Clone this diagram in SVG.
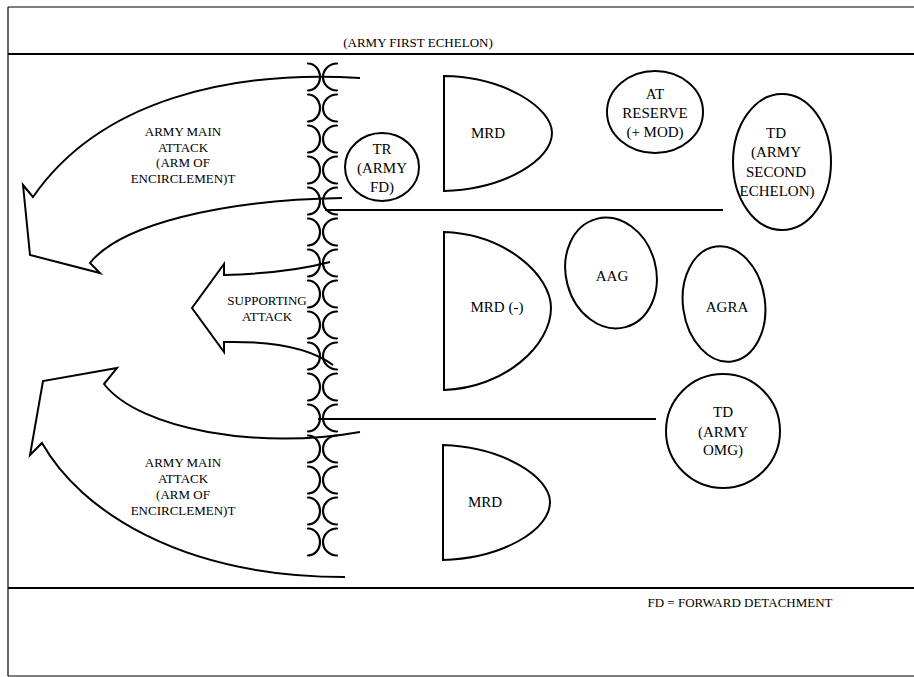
<svg xmlns="http://www.w3.org/2000/svg" width="914" height="677" viewBox="0 0 914 677" font-family="'Liberation Serif', 'DejaVu Serif', serif">
  <style>
    .ln { fill: none; stroke: #000; stroke-width: 2; }
    .thin { fill: none; stroke: #000; stroke-width: 1.2; }
    .shape { fill: #fff; stroke: #000; stroke-width: 2; }
    .fl { fill: none; stroke: #000; stroke-width: 2.2; stroke-linecap: round; }
    text { font-family: 'Liberation Serif', 'DejaVu Serif', serif; fill: #000; text-anchor: middle; }
    .sm { font-size: 13px; }
    .lg { font-size: 15px; }
  </style>
  <defs>
    <!-- one pair of opposing brackets marking the front line -->
    <g id="front-pair">
      <path class="fl" d="M308,-13.5 A12,13.5 0 0 1 308,13.5"/>
      <path class="fl" d="M337,-13.5 A14,13.5 0 0 0 337,13.5"/>
    </g>
  </defs>

  <rect width="914" height="677" fill="#fff"/>

  <!-- frame and bands -->
  <g id="frame">
    <line class="thin" x1="8" y1="7" x2="914" y2="7"/>
    <line class="thin" x1="8" y1="7" x2="8" y2="676"/>
    <line class="thin" x1="8" y1="676" x2="914" y2="676"/>
    <line class="ln" x1="8" y1="54" x2="914" y2="54"/>
    <line class="ln" x1="8" y1="588" x2="914" y2="588"/>
    <text class="sm" x="418" y="47">(ARMY FIRST ECHELON)</text>
    <text class="sm" x="740" y="607">FD = FORWARD DETACHMENT</text>
  </g>

  <!-- front line -->
  <g id="front-line">
    <use href="#front-pair" y="77"/>
    <use href="#front-pair" y="108"/>
    <use href="#front-pair" y="139"/>
    <use href="#front-pair" y="170"/>
    <use href="#front-pair" y="201"/>
    <use href="#front-pair" y="232"/>
    <use href="#front-pair" y="263"/>
    <use href="#front-pair" y="294"/>
    <use href="#front-pair" y="325"/>
    <use href="#front-pair" y="356"/>
    <use href="#front-pair" y="387"/>
    <use href="#front-pair" y="418"/>
    <use href="#front-pair" y="449"/>
    <use href="#front-pair" y="480"/>
    <use href="#front-pair" y="511"/>
    <use href="#front-pair" y="542"/>
  </g>

  <!-- attack arrows and boundary lines -->
  <g id="connectors">
    <path class="ln" d="M360,78 C230,70 100,100 33,197 L23,185 L30,255 L100,273 L90,263 C120,225 220,200 342,198"/>
    <path class="ln" d="M330,262 C300,270 260,274 224,275 L224,264 L192,308 L224,352 L224,342 C270,341 310,348 333,365"/>
    <path class="ln" d="M360,432 C260,450 140,430 104,384 L117,368 L43,381 L30,455 L42,443 C80,510 180,577 345,577"/>
    <line class="ln" x1="325" y1="210" x2="723" y2="210"/>
    <line class="ln" x1="318" y1="419" x2="656" y2="419"/>
  </g>

  <g id="label-main-attack-north">
    <text class="sm" x="183" y="136">ARMY MAIN</text>
    <text class="sm" x="183" y="152">ATTACK</text>
    <text class="sm" x="183" y="167">(ARM OF</text>
    <text class="sm" x="183" y="183">ENCIRCLEMEN)T</text>
  </g>
  <g id="label-supporting-attack">
    <text class="sm" x="267" y="305">SUPPORTING</text>
    <text class="sm" x="267" y="321">ATTACK</text>
  </g>
  <g id="label-main-attack-south">
    <text class="sm" x="183" y="467">ARMY MAIN</text>
    <text class="sm" x="183" y="483">ATTACK</text>
    <text class="sm" x="183" y="499">(ARM OF</text>
    <text class="sm" x="183" y="515">ENCIRCLEMEN)T</text>
  </g>

  <g id="tr-army-fd">
    <ellipse class="shape" cx="382" cy="167" rx="37" ry="34"/>
    <text class="lg" x="382" y="154">TR</text>
    <text class="lg" x="382" y="173">(ARMY</text>
    <text class="lg" x="382" y="192">FD)</text>
  </g>

  <g id="mrd-north">
    <path class="shape" d="M444,76 C505,77 552,108 552,133 C552,160 505,189 444,191 Z"/>
    <text class="lg" x="488" y="138">MRD</text>
  </g>

  <g id="mrd-centre">
    <path class="shape" d="M444,232 C505,234 551,275 551,308 C551,345 505,388 444,390 Z"/>
    <text class="lg" x="497" y="312">MRD (-)</text>
  </g>

  <g id="mrd-south">
    <path class="shape" d="M443,445 C503,447 550,477 550,502 C550,530 503,558 443,560 Z"/>
    <text class="lg" x="485" y="507">MRD</text>
  </g>

  <g id="at-reserve">
    <ellipse class="shape" cx="655" cy="112" rx="48" ry="41"/>
    <text class="lg" x="655" y="99">AT</text>
    <text class="lg" x="655" y="118">RESERVE</text>
    <text class="lg" x="655" y="137">(+ MOD)</text>
  </g>

  <g id="td-second-echelon">
    <ellipse class="shape" cx="782" cy="162" rx="49" ry="68"/>
    <text class="lg" x="776" y="138">TD</text>
    <text class="lg" x="776" y="157">(ARMY</text>
    <text class="lg" x="776" y="177">SECOND</text>
    <text class="lg" x="777" y="196">ECHELON)</text>
  </g>

  <g id="aag">
    <ellipse class="shape" cx="611" cy="273" rx="45" ry="56" transform="rotate(-15 611 273)"/>
    <text class="lg" x="612" y="281">AAG</text>
  </g>

  <g id="agra">
    <ellipse class="shape" cx="724" cy="304" rx="41" ry="58" transform="rotate(-8 724 304)"/>
    <text class="lg" x="727" y="312">AGRA</text>
  </g>

  <g id="td-omg">
    <ellipse class="shape" cx="723" cy="431" rx="57" ry="57"/>
    <text class="lg" x="723" y="417">TD</text>
    <text class="lg" x="723" y="437">(ARMY</text>
    <text class="lg" x="723" y="455">OMG)</text>
  </g>
</svg>
